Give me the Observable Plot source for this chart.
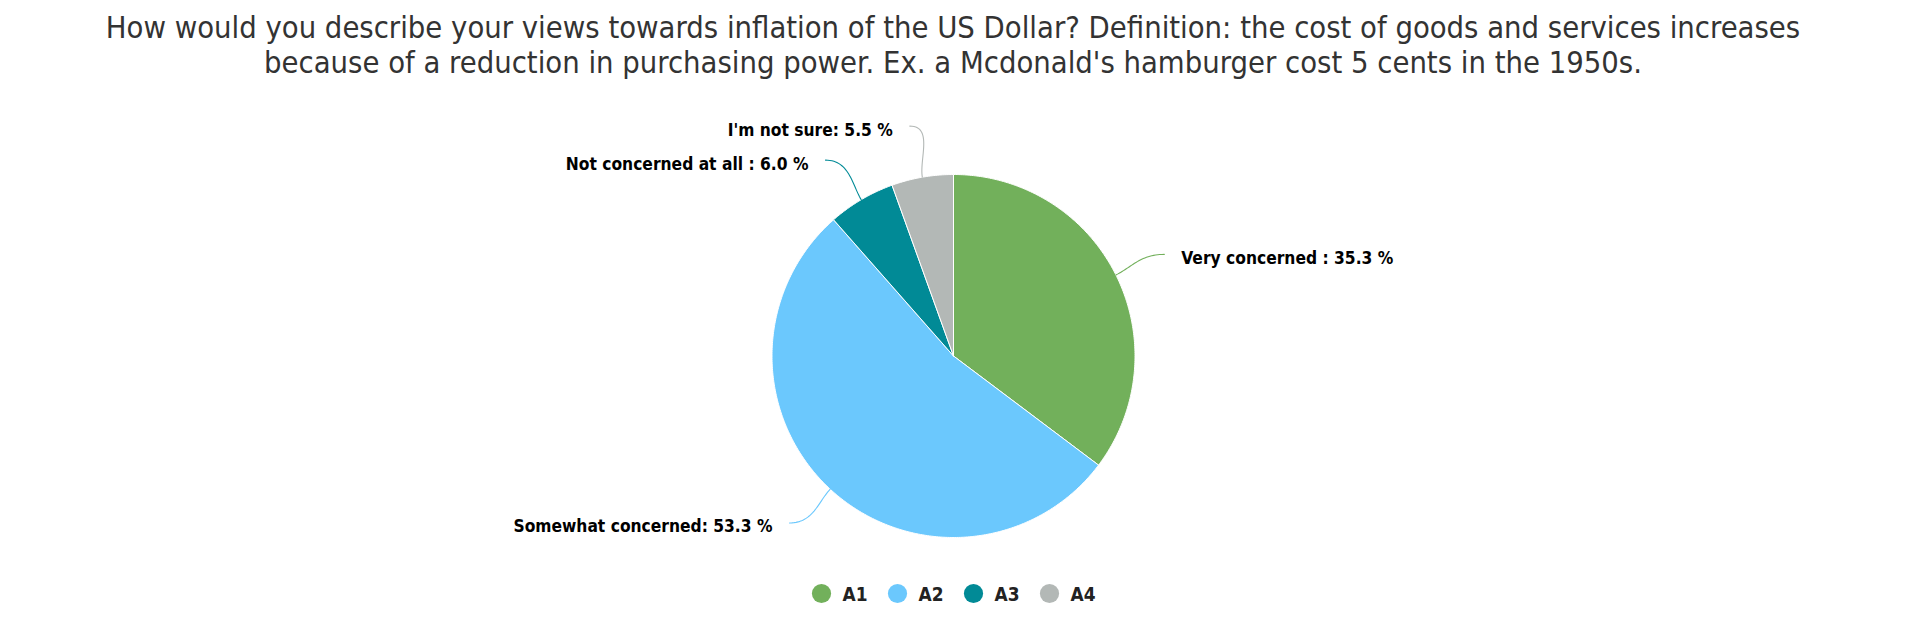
<!DOCTYPE html>
<html><head><meta charset="utf-8">
<script src="https://cdn.jsdelivr.net/npm/d3@7"></script>
<script src="https://cdn.jsdelivr.net/npm/@observablehq/plot@0.6"></script>
<style>
html,body{margin:0;padding:0;background:#fff;overflow:hidden;width:1906px;height:638px;}
#title{height:90px;box-sizing:border-box;text-align:center;color:#333;white-space:nowrap;}
#chart svg{display:block;}
</style></head><body>
<div id="title"></div><div id="chart"></div>
<script>
// ---- data ----
const titleLines = [
  "How would you describe your views towards inflation of the US Dollar? Definition: the cost of goods and services increases",
  "because of a reduction in purchasing power. Ex. a Mcdonald's hamburger cost 5 cents in the 1950s."
];
const categories = ["A1", "A2", "A3", "A4"];
const answerNames = ["Very concerned ", "Somewhat concerned", "Not concerned at all ", "I'm not sure"];
const shares = [35.3, 53.3, 6.0, 5.5];
const colors = ["#72b05b", "#6bc8fd", "#018a96", "#b3b8b6"];

// ---- layout ----
const W = 1906, H = 548, R = 181.5, cx = 953, cy = 265.5;
const labelDistY = 46, labelRadius = 234, minGap = 34, textGap = 17;
const titleFamily = "'DejaVu Sans Condensed', 'DejaVu Sans', sans-serif";
const labelFamily = "'DejaVu Sans Condensed', 'DejaVu Sans', sans-serif";

const ctx = document.createElement("canvas").getContext("2d");
function fit(text, weight, family, target) {
  ctx.font = `${weight} 100px ${family}`;
  return 100 * target / ctx.measureText(text).width;
}
const titleSize = fit(titleLines[0], "normal", titleFamily, 1695);
const labelSize = fit("Very concerned : 35.3 %", "bold", labelFamily, 212);
const legendSize = fit("A1", "bold", labelFamily, 25);

const t = document.getElementById("title");
t.style.fontFamily = titleFamily;
t.style.fontSize = titleSize + "px";
t.style.lineHeight = "35px";
t.style.paddingTop = "10px";
t.innerHTML = titleLines.map(s => s.replace(/&/g, "&amp;").replace(/</g, "&lt;")).join("<br>");

const rows = categories.map((key, i) => ({key, name: answerNames[i], value: shares[i]}));
const arcs = d3.pie().sort(null).value(d => d.value)(rows);

// slice outlines (unit circle coordinates, y up)
const slicePts = [];
arcs.forEach(a => {
  const key = a.data.key;
  slicePts.push({key, x: 0, y: 0});
  const n = Math.max(4, Math.ceil((a.endAngle - a.startAngle) / 0.01));
  for (let k = 0; k <= n; k++) {
    const ang = a.startAngle + (a.endAngle - a.startAngle) * k / n;
    slicePts.push({key, x: Math.sin(ang), y: Math.cos(ang)});
  }
  slicePts.push({key, x: 0, y: 0});
});

// label anchors (pixel offsets from centre, y down), with simple collision push
const anchors = arcs.map(a => {
  const mid = (a.startAngle + a.endAngle) / 2;
  return {a, mid, side: Math.sin(mid) >= 0 ? 1 : -1, py: -Math.cos(mid) * (R + labelDistY)};
});
[1, -1].forEach(side => {
  const group = anchors.filter(d => d.side === side).sort((p, q) => q.py - p.py); // bottom to top
  for (let i = 1; i < group.length; i++) {
    if (group[i - 1].py - group[i].py < minGap) group[i].py = group[i - 1].py - minGap;
  }
});
anchors.forEach(d => {
  d.px = d.side * Math.sqrt(Math.max(0, labelRadius * labelRadius - d.py * d.py));
});

const connPts = [];
const labelRows = [];
anchors.forEach(d => {
  const key = d.a.data.key, mid = d.mid, side = d.side;
  const P0 = [d.px / R, -d.py / R];
  const P1 = [P0[0] - side * 0.13, P0[1]];
  const P2 = [Math.sin(mid) * 1.1, Math.cos(mid) * 1.1];
  const P3 = [Math.sin(mid), Math.cos(mid)];
  for (let k = 0; k <= 30; k++) {
    const s = k / 30, u = 1 - s;
    const x = u*u*u*P0[0] + 3*u*u*s*P1[0] + 3*u*s*s*P2[0] + s*s*s*P3[0];
    const y = u*u*u*P0[1] + 3*u*u*s*P1[1] + 3*u*s*s*P2[1] + s*s*s*P3[1];
    connPts.push({key, x, y});
  }
  labelRows.push({
    key, side,
    x: (d.px + side * textGap) / R,
    y: -(d.py + 4) / R,
    text: `${d.a.data.name}: ${d.a.data.value.toFixed(1)} %`
  });
});

const legendRows = categories.map((key, i) => ({
  key,
  x: (821 + i * 76 - cx) / R,
  tx: (842 + i * 76 - cx) / R,
  y: (cy - (593 - 90)) / R
}));

const chart = Plot.plot({
  width: W, height: H, margin: 0,
  style: {background: "#fff"},
  x: {domain: [-cx / R, (W - cx) / R], range: [0, W], axis: null},
  y: {domain: [-(H - cy) / R, cy / R], range: [H, 0], axis: null},
  color: {domain: categories, range: colors},
  marks: [
    Plot.line(slicePts, {x: "x", y: "y", z: "key", fill: "key", stroke: "white", strokeWidth: 1, curve: "linear"}),
    Plot.line(connPts, {x: "x", y: "y", z: "key", stroke: "key", strokeWidth: 1.1, curve: "linear"}),
    Plot.text(labelRows.filter(d => d.side > 0), {x: "x", y: "y", text: "text", textAnchor: "start",
      fontWeight: "bold", fontSize: labelSize, fontFamily: labelFamily, fill: "#000"}),
    Plot.text(labelRows.filter(d => d.side < 0), {x: "x", y: "y", text: "text", textAnchor: "end",
      fontWeight: "bold", fontSize: labelSize, fontFamily: labelFamily, fill: "#000"}),
    Plot.dot(legendRows, {x: "x", y: "y", r: 9.6, fill: "key", stroke: null}),
    Plot.text(legendRows, {x: "tx", y: "y", text: "key", textAnchor: "start", dy: 1.5,
      fontWeight: "bold", fontSize: legendSize, fontFamily: labelFamily, fill: "#222"})
  ]
});
document.getElementById("chart").appendChild(chart);
</script>
</body></html>
